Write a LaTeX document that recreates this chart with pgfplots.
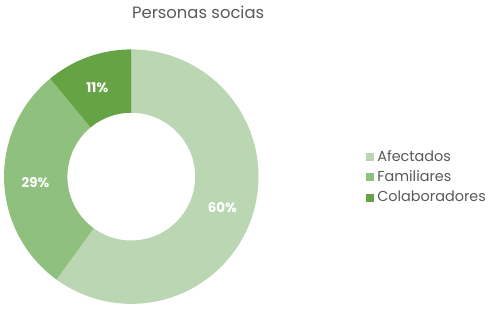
\documentclass[border=0pt]{standalone}
\usepackage{pgfplots}
\pgfplotsset{compat=1.18}
\usepackage{pgfplotstable}
\usetikzlibrary{calc}
\usepackage{fontspec}
\setmainfont{Poppins}
\definecolor{cA}{HTML}{BBD6B2}
\definecolor{cF}{HTML}{8FC07D}
\definecolor{cC}{HTML}{65A344}
\definecolor{txtgray}{HTML}{595959}
\pgfplotstableread{
label value
Afectados 60
Familiares 29
Colaboradores 11
}\datatable
\pgfplotstablegetelem{0}{value}\of\datatable \edef\vA{\pgfplotsretval}
\pgfplotstablegetelem{1}{value}\of\datatable \edef\vF{\pgfplotsretval}
\pgfplotstablegetelem{2}{value}\of\datatable \edef\vC{\pgfplotsretval}
\pgfmathsetmacro{\aA}{90}
\pgfmathsetmacro{\aB}{90-3.6*\vA}
\pgfmathsetmacro{\aC}{\aB-3.6*\vF}
\pgfmathsetmacro{\aD}{\aC-3.6*\vC}
\pgfmathsetmacro{\mA}{(\aA+\aB)/2}
\pgfmathsetmacro{\mF}{(\aB+\aC)/2}
\pgfmathsetmacro{\mC}{(\aC+\aD)/2}
\newcommand{\Ro}{127.5bp}
\newcommand{\Ri}{64bp}
\newcommand{\Rl}{96bp}
\begin{document}
\begin{tikzpicture}
\begin{axis}[scale only axis, width=490bp, height=309bp,
  xmin=0, xmax=490, ymin=0, ymax=309, hide axis, clip=false,
  legend style={at={(axis cs:366,160)}, anchor=north west, draw=none, fill=none,
    font=\fontsize{14.5}{16}\selectfont, text=txtgray, row sep=5bp, column sep=2bp,
    inner sep=0pt, nodes={inner sep=1.5bp}},
  legend cell align=left]
\path (axis cs:0,0) rectangle (axis cs:490,309);
\coordinate (O) at (axis cs:130.5,132);
\fill[cA] ($(O)+(\aA:\Ro)$) arc[start angle=\aA, end angle=\aB, radius=\Ro]
  -- ($(O)+(\aB:\Ri)$) arc[start angle=\aB, end angle=\aA, radius=\Ri] -- cycle;
\fill[cF] ($(O)+(\aB:\Ro)$) arc[start angle=\aB, end angle=\aC, radius=\Ro]
  -- ($(O)+(\aC:\Ri)$) arc[start angle=\aC, end angle=\aB, radius=\Ri] -- cycle;
\fill[cC] ($(O)+(\aC:\Ro)$) arc[start angle=\aC, end angle=\aD, radius=\Ro]
  -- ($(O)+(\aD:\Ri)$) arc[start angle=\aD, end angle=\aC, radius=\Ri] -- cycle;
\node[text=white, font=\fontsize{13.5}{15}\selectfont\bfseries] at ($(O)+(\mA:\Rl)+(0,-1.5bp)$) {\vA\%};
\node[text=white, font=\fontsize{13.5}{15}\selectfont\bfseries] at ($(O)+(\mF:\Rl)+(0,-2.5bp)$) {\vF\%};
\node[text=white, font=\fontsize{13.5}{15}\selectfont\bfseries] at ($(O)+(\mC:\Rl)+(-1.5bp,-1.5bp)$) {\vC\%};
\node[anchor=base, text=txtgray, font=\fontsize{16.5}{19}\selectfont] at (axis cs:197.5,290) {Personas socias};
\addlegendimage{legend image code/.code={\fill[cA] (0bp,-3.5bp) rectangle (7bp,3.5bp);}}
\addlegendentry{Afectados}
\addlegendimage{legend image code/.code={\fill[cF] (0bp,-3.5bp) rectangle (7bp,3.5bp);}}
\addlegendentry{Familiares}
\addlegendimage{legend image code/.code={\fill[cC] (0bp,-3.5bp) rectangle (7bp,3.5bp);}}
\addlegendentry{Colaboradores}
\end{axis}
\end{tikzpicture}
\end{document}
